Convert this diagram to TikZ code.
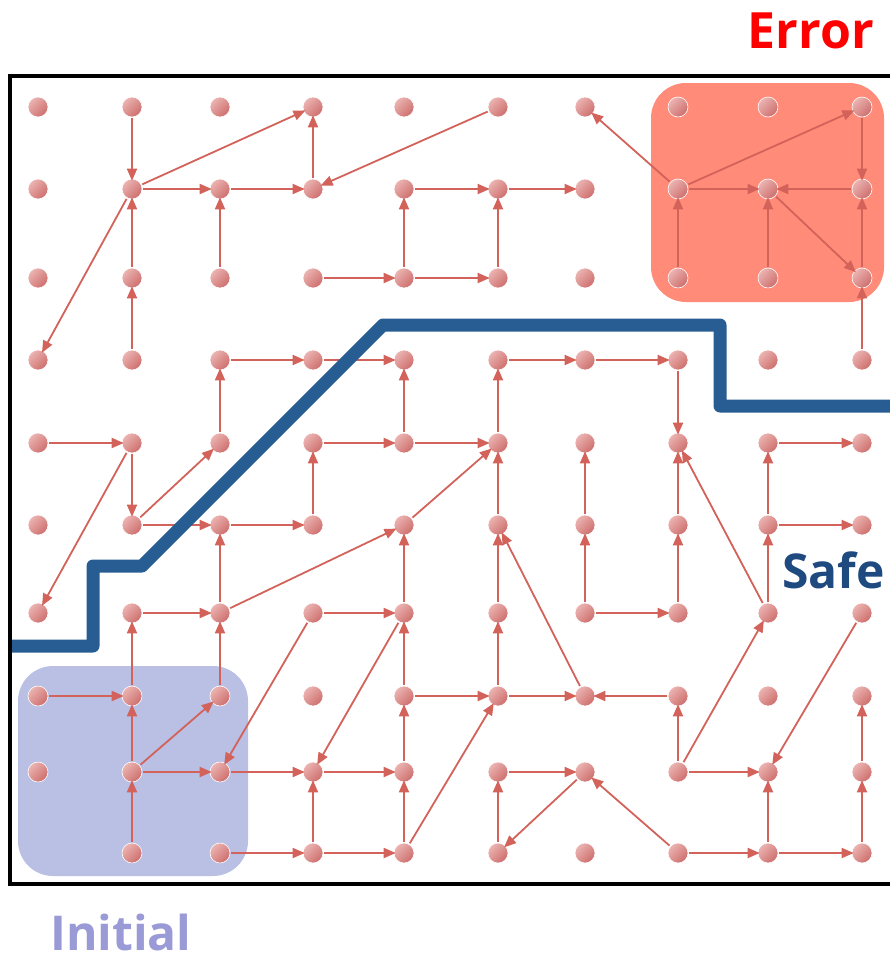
\documentclass[tikz,border=0pt]{standalone}
\usepackage{fontspec}
\setmainfont{Open Sans}
\usetikzlibrary{arrows.meta}
\definecolor{errred}{HTML}{FF0000}
\definecolor{errfill}{HTML}{FF8B78}
\definecolor{initfill}{HTML}{BABFE4}
\definecolor{initlabel}{HTML}{9A9AD6}
\definecolor{safeblue}{HTML}{275D92}
\definecolor{safelabel}{HTML}{1F4A80}
\definecolor{edgered}{HTML}{D2625A}
\definecolor{dotlight}{HTML}{EBB4B2}
\definecolor{dotdark}{HTML}{CD6E6C}

\tikzset{
  state/.style={circle, inner sep=0pt, minimum size=20pt, draw=white, line width=0.6pt,
    top color=dotlight, bottom color=dotdark, shading angle=45},
  trans/.style={draw=edgered, line width=1.8pt, -{Triangle[length=12pt,width=10pt]},
    shorten <=1pt, shorten >=-2pt},
  tag/.style={font=\bfseries\fontsize{48}{58}\selectfont, inner sep=0pt}
}

\begin{document}
\begin{tikzpicture}[x=1pt, y=-1pt]
  \useasboundingbox (0,0) rectangle (890,959);

  % regions
  \fill[errfill, rounded corners=35pt] (651,83) rectangle (884,302);
  \fill[initfill, rounded corners=35pt] (18,666) rectangle (248,876);

  % states
  \foreach \c/\x in {0/38,1/132,2/220,3/313,4/404,5/498,6/585,7/678,8/768,9/862}
    \foreach \r/\y in {0/107,1/189,2/278,3/360,4/443,5/525,6/613,7/696,8/772,9/853}{
      \ifnum\c\r=9 \else
        \node[state] (s\c\r) at (\x,\y) {};
      \fi
    }

  % transitions
  \foreach \a/\b in {10/11, 11/30, 11/21, 21/31, 11/03, 12/11, 22/21, 13/12, 31/30, 50/31,
      32/42, 42/52, 42/41, 52/51, 41/51, 51/61,
      71/60, 71/90, 71/81, 91/81, 90/91, 72/71, 82/81, 81/92, 92/91, 93/92,
      23/33, 33/43, 53/63, 63/73, 73/74, 24/23, 44/43, 54/53,
      04/14, 14/15, 14/06, 15/24, 15/25, 25/35, 35/34, 34/44, 44/54, 45/54, 55/54, 65/64,
      26/25, 16/26, 26/45, 17/16, 27/26,
      36/28, 36/46, 46/45, 46/38, 47/46, 47/57, 57/56, 56/55, 67/55, 57/67, 77/67,
      66/65, 66/76, 76/75, 75/74, 86/74, 86/85, 85/84, 84/94, 85/95,
      78/77, 78/86, 78/88, 96/88, 89/88, 79/68, 79/89, 89/99, 99/98, 98/97,
      48/47, 28/38, 38/48, 39/38, 49/48, 29/39, 39/49, 49/57, 59/58, 58/68, 68/59,
      07/17, 18/17, 18/27, 18/28, 19/18}
    \draw[trans] (s\a) -- (s\b);

  % boundary of the safe set
  \draw[safeblue, line width=13pt, line join=round]
    (10,646) -- (93,646) -- (93,566) -- (142,566) -- (383,325) -- (720,325)
    -- (720,406) -- (900,406);

  \draw[line width=4pt] (10,76) rectangle (900,884);

  \node[tag, text=errred, font=\bfseries\fontsize{50}{60}\selectfont, anchor=base east]
    (errlbl) at (874,48) {Error};
  \node[tag, text=safelabel, anchor=base west] (safelbl) at (782,588) {Safe};
  \node[tag, text=initlabel, anchor=base west] (initlbl) at (50,950) {Initial};
\end{tikzpicture}
\end{document}
